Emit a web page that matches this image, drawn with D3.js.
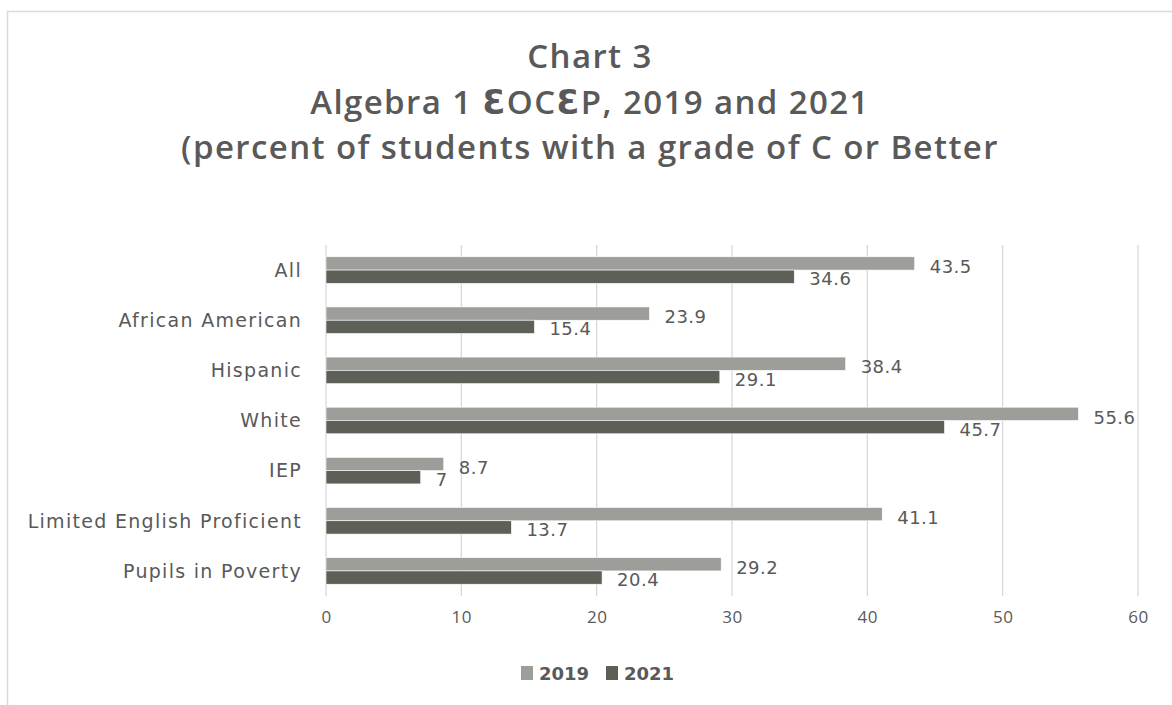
<!DOCTYPE html>
<html>
<head>
<meta charset="utf-8">
<script src="https://cdn.jsdelivr.net/npm/d3@7"></script>
<style>
    body { margin: 0; background: #fff; }
    svg text { font-family: 'Open Sans', 'DejaVu Sans', sans-serif; fill: #595959; }
</style>
</head>
<body>
<svg id="chart" width="1172" height="705"></svg>
<script>
// chart data
const categories = ['All', 'African American', 'Hispanic', 'White', 'IEP', 'Limited English Proficient', 'Pupils in Poverty'];
const seriesNames = ['2019', '2021'];
const values2019 = [43.5, 23.9, 38.4, 55.6, 8.7, 41.1, 29.2];
const values2021 = [34.6, 15.4, 29.1, 45.7, 7, 13.7, 20.4];
const xTicks = [0, 10, 20, 30, 40, 50, 60];
const titleLines = ['Chart 3', 'Algebra 1 ƐOCƐP, 2019 and 2021', '(percent of students with a grade of C or Better'];

const colors = { '2019': '#9d9e99', '2021': '#5d6056' };
const wideFont = "'DejaVu Sans', 'Open Sans', sans-serif";

const svg = d3.select('#chart');

// outer frame, cropped on right/bottom like the source
svg.append('rect')
    .attr('x', 7.5).attr('y', 11.5)
    .attr('width', 1300).attr('height', 900)
    .attr('fill', '#fff')
    .attr('stroke', '#d9d9d9')
    .attr('stroke-width', 1.5);

// title
svg.append('g')
    .selectAll('text')
    .data(titleLines)
    .enter()
    .append('text')
    .attr('x', 590)
    .attr('y', (d, i) => 68 + i * 45.5)
    .attr('text-anchor', 'middle')
    .style('font-size', '33px')
    .style('font-weight', 600)
    .style('letter-spacing', '1.4px')
    .text(d => d);

const plot = { left: 326, right: 1138, top: 245, bottom: 596 };

const x = d3.scaleLinear().domain([0, 60]).range([plot.left, plot.right]);
const y = d3.scaleBand().domain(categories).range([plot.top, plot.bottom]).paddingInner(0.47).paddingOuter(0.235);
const ySub = d3.scaleBand().domain(seriesNames).range([0, y.bandwidth()]);

// gridlines
svg.append('g')
    .selectAll('line')
    .data(xTicks)
    .enter()
    .append('line')
    .attr('x1', d => x(d)).attr('x2', d => x(d))
    .attr('y1', plot.top).attr('y2', plot.bottom)
    .attr('stroke', '#d9d9d9')
    .attr('stroke-width', 1.3);

// x axis labels
const xAxis = d3.axisBottom(x).tickValues(xTicks).tickSize(0).tickPadding(0);
const xg = svg.append('g').attr('transform', `translate(0,${plot.bottom + 12})`).call(xAxis);
xg.select('.domain').remove();
xg.selectAll('text')
    .attr('dy', '0.9em')
    .style('font-family', "'Open Sans', sans-serif")
    .style('font-size', '17px')
    .style('letter-spacing', '0.5px')
    .style('fill', '#595959');

// y axis labels
const yAxis = d3.axisLeft(y).tickSize(0).tickPadding(24);
const yg = svg.append('g').attr('transform', `translate(${plot.left},0)`).call(yAxis);
yg.select('.domain').remove();
yg.selectAll('text')
    .attr('dy', '0.36em')
    .style('font-family', wideFont)
    .style('font-size', '19px')
    .style('letter-spacing', '1.3px')
    .style('fill', '#595959');

// bars
const rows = categories.map((c, i) => ({ cat: c, vals: [values2019[i], values2021[i]] }));

const groups = svg.append('g')
    .selectAll('g')
    .data(rows)
    .enter()
    .append('g')
    .attr('transform', d => `translate(0,${y(d.cat)})`);

groups.selectAll('rect')
    .data(d => d.vals.map((v, k) => ({ series: seriesNames[k], value: v })))
    .enter()
    .append('rect')
    .attr('x', x(0))
    .attr('y', d => ySub(d.series))
    .attr('width', d => x(d.value) - x(0))
    .attr('height', ySub.bandwidth())
    .attr('fill', d => colors[d.series])
    .attr('stroke', '#fff')
    .attr('stroke-width', 0.6);

// data labels
groups.selectAll('text')
    .data(d => d.vals.map((v, k) => ({ series: seriesNames[k], value: v })))
    .enter()
    .append('text')
    .attr('x', d => x(d.value) + 15)
    .attr('y', d => ySub(d.series) + ySub.bandwidth() + (d.series === '2019' ? 3 : 2))
    .style('font-family', wideFont)
    .style('font-size', '18px')
    .style('letter-spacing', '0.5px')
    .text(d => d.value);

// legend
const legend = svg.append('g').attr('transform', 'translate(521,666)');
const legendOffsets = [0, 85];
seriesNames.forEach((s, i) => {
    const item = legend.append('g').attr('transform', `translate(${legendOffsets[i]},0)`);
    item.append('rect')
        .attr('width', 12).attr('height', 14)
        .attr('fill', colors[s]);
    item.append('text')
        .attr('x', 18).attr('y', 13.5)
        .style('font-family', wideFont)
        .style('font-size', '18px')
        .style('font-weight', 700)
        .text(s);
});
</script>
</body>
</html>
